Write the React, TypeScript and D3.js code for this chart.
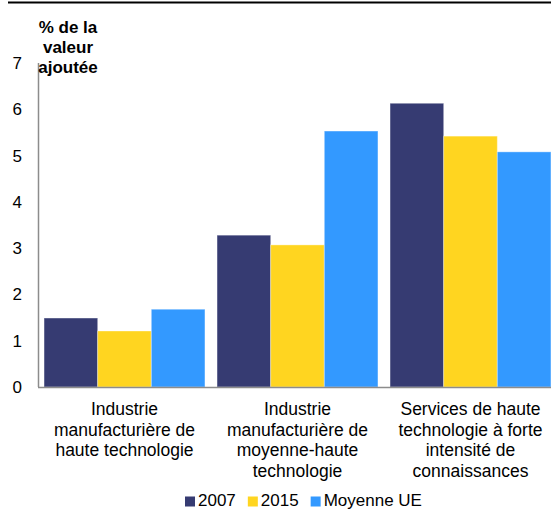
import React, { useEffect, useRef } from "react";
import * as d3 from "d3";

const categories: string[][] = [
  ["Industrie", "manufacturière de", "haute technologie"],
  ["Industrie", "manufacturière de", "moyenne-haute", "technologie"],
  ["Services de haute", "technologie à forte", "intensité de", "connaissances"],
];
const seriesNames = ["2007", "2015", "Moyenne UE"];
const seriesColors = ["#363B72", "#FFD520", "#3399FF"];
const values2007 = [1.49, 3.28, 6.13];
const values2015 = [1.21, 3.07, 5.42];
const valuesUE = [1.68, 5.53, 5.08];
const yTicks = [0, 1, 2, 3, 4, 5, 6, 7];
const titleLines = ["% de la", "valeur", "ajoutée"];

const W = 551;
const H = 510;
const FONT = "Liberation Sans, Arial, sans-serif";

export default function App() {
  const ref = useRef<SVGSVGElement>(null);
  useEffect(() => {
    const svg = d3.select(ref.current);
    svg.selectAll("*").remove();
    const series = [values2007, values2015, valuesUE];
    const catIdx = categories.map((_, i) => String(i));

    const y = d3.scaleLinear().domain([0, 7]).range([387, 63]);
    const x0 = d3
      .scaleBand<string>()
      .domain(catIdx)
      .range([38, 557])
      .paddingInner(0.07)
      .paddingOuter(0.035);
    const x1 = d3
      .scaleBand<string>()
      .domain(seriesNames)
      .range([0, x0.bandwidth()]);

    // top rule
    svg
      .append("line")
      .attr("x1", 8)
      .attr("x2", W)
      .attr("y1", 2.5)
      .attr("y2", 2.5)
      .attr("stroke", "#000")
      .attr("stroke-width", 2);

    // bars
    series.forEach((vals, si) => {
      svg
        .append("g")
        .selectAll("rect")
        .data(vals)
        .join("rect")
        .attr("x", (_, i) => (x0(String(i)) as number) + (x1(seriesNames[si]) as number))
        .attr("y", (d) => y(d))
        .attr("width", x1.bandwidth())
        .attr("height", (d) => y(0) - y(d))
        .attr("fill", seriesColors[si])
        .attr("stroke", "#ffffff")
        .attr("stroke-opacity", 0.35)
        .attr("stroke-width", 1);
    });

    // axes lines
    svg
      .append("line")
      .attr("x1", 38.5)
      .attr("x2", 38.5)
      .attr("y1", y(7))
      .attr("y2", y(0))
      .attr("stroke", "#8c8c8c")
      .attr("stroke-width", 1.5);
    svg
      .append("line")
      .attr("x1", 38)
      .attr("x2", W)
      .attr("y1", y(0) + 0.5)
      .attr("y2", y(0) + 0.5)
      .attr("stroke", "#8c8c8c")
      .attr("stroke-width", 1.5);

    // y tick labels
    svg
      .append("g")
      .selectAll("text")
      .data(yTicks)
      .join("text")
      .attr("x", 22)
      .attr("y", (d) => y(d) + 6)
      .attr("text-anchor", "end")
      .attr("font-family", FONT)
      .attr("font-size", 17)
      .attr("fill", "#000")
      .text((d) => String(d));

    // title
    svg
      .append("g")
      .selectAll("text")
      .data(titleLines)
      .join("text")
      .attr("x", 68)
      .attr("y", (_, i) => 33 + i * 20)
      .attr("text-anchor", "middle")
      .attr("font-family", FONT)
      .attr("font-size", 17)
      .attr("font-weight", "bold")
      .attr("fill", "#000")
      .text((d) => d);

    // category labels
    categories.forEach((lines, ci) => {
      const cx = (x0(String(ci)) as number) + x0.bandwidth() / 2;
      svg
        .append("g")
        .selectAll("text")
        .data(lines)
        .join("text")
        .attr("x", cx)
        .attr("y", (_, i) => 415 + i * 20.5)
        .attr("text-anchor", "middle")
        .attr("font-family", FONT)
        .attr("font-size", 17.5)
        .attr("fill", "#000")
        .text((d) => d);
    });

    // legend
    let lx = 185;
    const ly = 506;
    seriesNames.forEach((name, si) => {
      svg
        .append("rect")
        .attr("x", lx)
        .attr("y", ly - 9.5)
        .attr("width", 10)
        .attr("height", 10)
        .attr("fill", seriesColors[si]);
      const t = svg
        .append("text")
        .attr("x", lx + 13)
        .attr("y", ly)
        .attr("font-family", FONT)
        .attr("font-size", 17)
        .attr("fill", "#000")
        .text(name);
      const w = (t.node() as SVGTextElement).getComputedTextLength();
      lx += 13 + w + 12;
    });
  }, []);

  return (
    <svg
      ref={ref}
      width={W}
      height={H}
      style={{ position: "absolute", left: 0, top: 0, background: "#fff" }}
    />
  );
}
